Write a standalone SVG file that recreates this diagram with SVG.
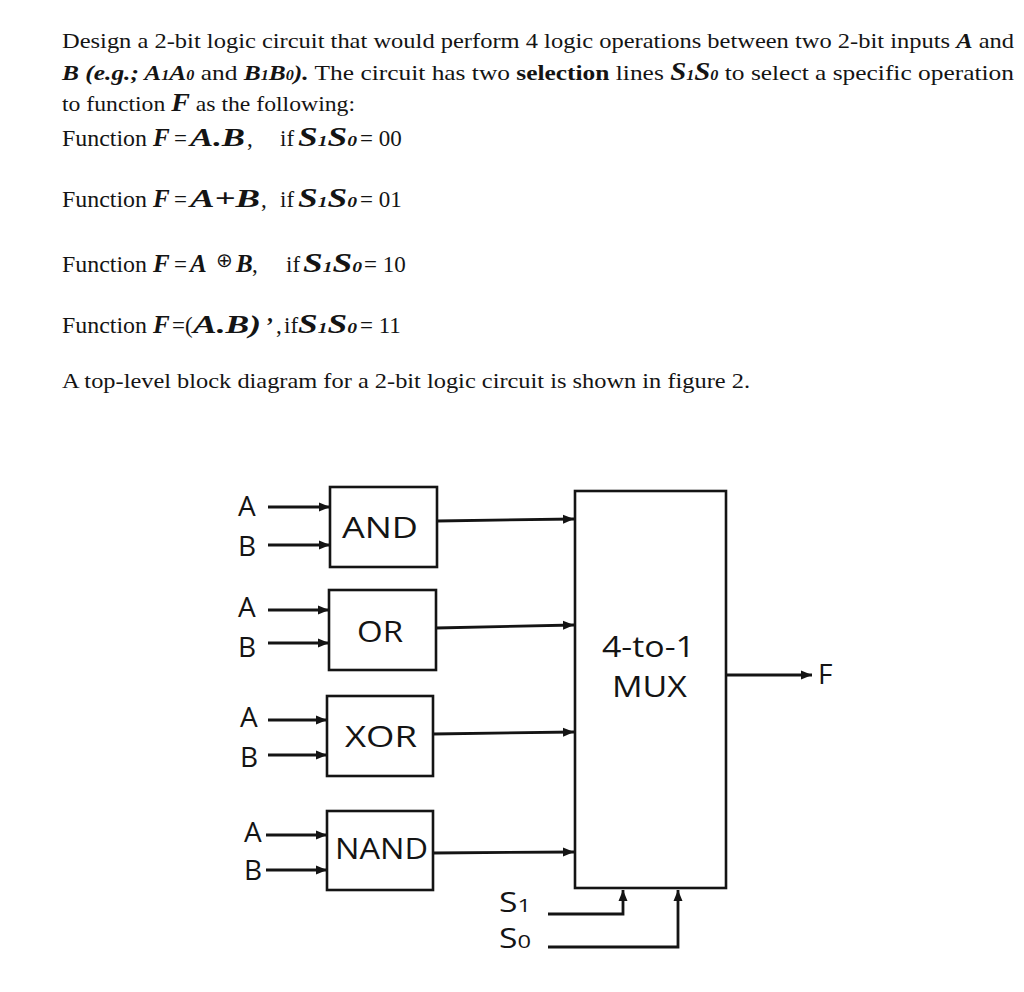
<svg xmlns="http://www.w3.org/2000/svg" width="1024" height="992" viewBox="0 0 1024 992">
<defs>
<style>
.t{font-family:"Liberation Serif","Times New Roman",serif;font-size:22px;fill:#141414}
.f{font-size:23px}
.bi{font-weight:bold;font-style:italic}
.big{font-size:25px}
.s{font-size:27px}
.b{font-weight:bold}
.sm{font-size:14px}
.sd{font-size:15px}
.d{font-family:"Open Sans","Noto Sans",sans-serif;fill:#141414}
.box{fill:#fff;stroke:#141414;stroke-width:2.6}
.w{stroke:#141414;stroke-width:2.8;fill:none}
</style>
<marker id="ah" markerWidth="12" markerHeight="10" refX="11" refY="5" orient="auto" markerUnits="userSpaceOnUse">
<path d="M0,0.5 L11,5 L0,9.5 z" fill="#141414"/>
</marker>
</defs>
<rect width="1024" height="992" fill="#fff"/>

<g id="problem-text">
<text class="t" x="62" y="48" textLength="952" lengthAdjust="spacingAndGlyphs">Design a 2-bit logic circuit that would perform 4 logic operations between two 2-bit inputs <tspan class="bi">A</tspan> and</text>
<text class="t" x="62" y="80" textLength="952" lengthAdjust="spacingAndGlyphs"><tspan class="bi">B (e.g.; A<tspan class="sm">1</tspan>A<tspan class="sm">0</tspan></tspan> and <tspan class="bi">B<tspan class="sm">1</tspan>B<tspan class="sm">0</tspan>).</tspan> The circuit has two <tspan class="b">selection</tspan> lines <tspan class="bi big">S<tspan class="sm">1</tspan>S<tspan class="sm">0</tspan></tspan> to select a specific operation</text>
<text class="t" x="62" y="111" textLength="293" lengthAdjust="spacingAndGlyphs">to function <tspan class="bi" style="font-size:26px">F</tspan> as the following:</text>

<text class="t f" x="62" y="146" textLength="85" lengthAdjust="spacingAndGlyphs">Function</text>
<text class="t bi big" x="153" y="146">F</text>
<text class="t f" x="174" y="146">=</text>
<text class="t bi big" x="190" y="146" textLength="55" lengthAdjust="spacingAndGlyphs">A.B</text>
<text class="t f" x="247" y="146">,</text>
<text class="t f" x="280" y="146">if</text>
<text class="t bi s" x="298" y="146" textLength="59" lengthAdjust="spacingAndGlyphs">S<tspan class="sd">1</tspan>S<tspan class="sd">0</tspan></text>
<text class="t f" x="360" y="146">= 00</text>

<text class="t f" x="62" y="207" textLength="85" lengthAdjust="spacingAndGlyphs">Function</text>
<text class="t bi big" x="153" y="207">F</text>
<text class="t f" x="174" y="207">=</text>
<text class="t bi big" x="190" y="207" textLength="70" lengthAdjust="spacingAndGlyphs">A+B</text>
<text class="t f" x="261" y="207">,</text>
<text class="t f" x="280" y="207">if</text>
<text class="t bi s" x="298" y="207" textLength="59" lengthAdjust="spacingAndGlyphs">S<tspan class="sd">1</tspan>S<tspan class="sd">0</tspan></text>
<text class="t f" x="360" y="207">= 01</text>

<text class="t f" x="62" y="272" textLength="85" lengthAdjust="spacingAndGlyphs">Function</text>
<text class="t bi big" x="153" y="272">F</text>
<text class="t f" x="174" y="272">=</text>
<text class="t bi big" x="190" y="272">A</text>
<text class="t" x="216" y="267" style="font-size:20px;font-family:'DejaVu Sans',sans-serif">⊕</text>
<text class="t bi big" x="236" y="272">B</text>
<text class="t f" x="252" y="272">,</text>
<text class="t f" x="286" y="272">if</text>
<text class="t bi s" x="303" y="272" textLength="59" lengthAdjust="spacingAndGlyphs">S<tspan class="sd">1</tspan>S<tspan class="sd">0</tspan></text>
<text class="t f" x="364" y="272">= 10</text>

<text class="t f" x="62" y="333" textLength="85" lengthAdjust="spacingAndGlyphs">Function</text>
<text class="t bi big" x="153" y="333">F</text>
<text class="t f" x="172" y="333">=</text>
<text class="t f" x="185" y="333">(</text>
<text class="t bi big" x="193" y="333" textLength="68" lengthAdjust="spacingAndGlyphs">A.B)</text>
<text class="t f b" x="266" y="333">’</text>
<text class="t f" x="276" y="333">,</text>
<text class="t f" x="284" y="333">if</text>
<text class="t bi s" x="298" y="333" textLength="59" lengthAdjust="spacingAndGlyphs">S<tspan class="sd">1</tspan>S<tspan class="sd">0</tspan></text>
<text class="t f" x="360" y="333">= 11</text>

<text class="t" x="62" y="388" textLength="688" lengthAdjust="spacingAndGlyphs">A top-level block diagram for a 2-bit logic circuit is shown in figure 2.</text>
</g>

<g id="and-gate">
<rect class="box" x="330" y="487" width="107" height="80"/>
<text class="d" x="342" y="538" font-size="30" textLength="76" lengthAdjust="spacingAndGlyphs">AND</text>
</g>
<g id="or-gate">
<rect class="box" x="329" y="590" width="107" height="80"/>
<text class="d" x="357" y="642" font-size="30" textLength="46" lengthAdjust="spacingAndGlyphs">OR</text>
</g>
<g id="xor-gate">
<rect class="box" x="327" y="696" width="106" height="80"/>
<text class="d" x="345" y="747" font-size="30" textLength="72" lengthAdjust="spacingAndGlyphs">XOR</text>
</g>
<g id="nand-gate">
<rect class="box" x="327" y="811" width="106" height="79"/>
<text class="d" x="335" y="859" font-size="30" textLength="93" lengthAdjust="spacingAndGlyphs">NAND</text>
</g>
<g id="mux">
<rect class="box" x="575" y="491" width="151" height="397"/>
<text class="d" x="602" y="657" font-size="30" textLength="93" lengthAdjust="spacingAndGlyphs">4-to-1</text>
<text class="d" x="612" y="697" font-size="30" textLength="75" lengthAdjust="spacingAndGlyphs">MUX</text>
</g>

<g id="labels" class="d" font-size="28">
<text x="238" y="516">A</text>
<text x="238" y="556">B</text>
<text x="238" y="617">A</text>
<text x="238" y="657">B</text>
<text x="240" y="727">A</text>
<text x="240" y="767">B</text>
<text x="244" y="842">A</text>
<text x="244" y="880">B</text>
<text x="818" y="684">F</text>
<text x="499" y="912" font-size="27" textLength="32" lengthAdjust="spacingAndGlyphs">S<tspan font-size="19">1</tspan></text>
<text x="499" y="948" font-size="27" textLength="32" lengthAdjust="spacingAndGlyphs">S<tspan font-size="19">0</tspan></text>
</g>

<g id="connectors" class="w" marker-end="url(#ah)">
<line x1="268" y1="507" x2="330" y2="507"/>
<line x1="268" y1="545" x2="330" y2="545"/>
<line x1="268" y1="610" x2="329" y2="610"/>
<line x1="268" y1="643" x2="329" y2="643"/>
<line x1="268" y1="720" x2="327" y2="720"/>
<line x1="268" y1="755" x2="327" y2="755"/>
<line x1="266" y1="835" x2="327" y2="835"/>
<line x1="266" y1="870" x2="327" y2="870"/>
<line x1="437" y1="521" x2="574" y2="519"/>
<line x1="436" y1="628" x2="574" y2="625"/>
<line x1="433" y1="734" x2="574" y2="732"/>
<line x1="433" y1="853" x2="574" y2="852"/>
<line x1="726" y1="675" x2="812" y2="675"/>
<polyline points="548,914 623,914 623,890"/>
<polyline points="548,947 678,947 678,890"/>
</g>
</svg>
